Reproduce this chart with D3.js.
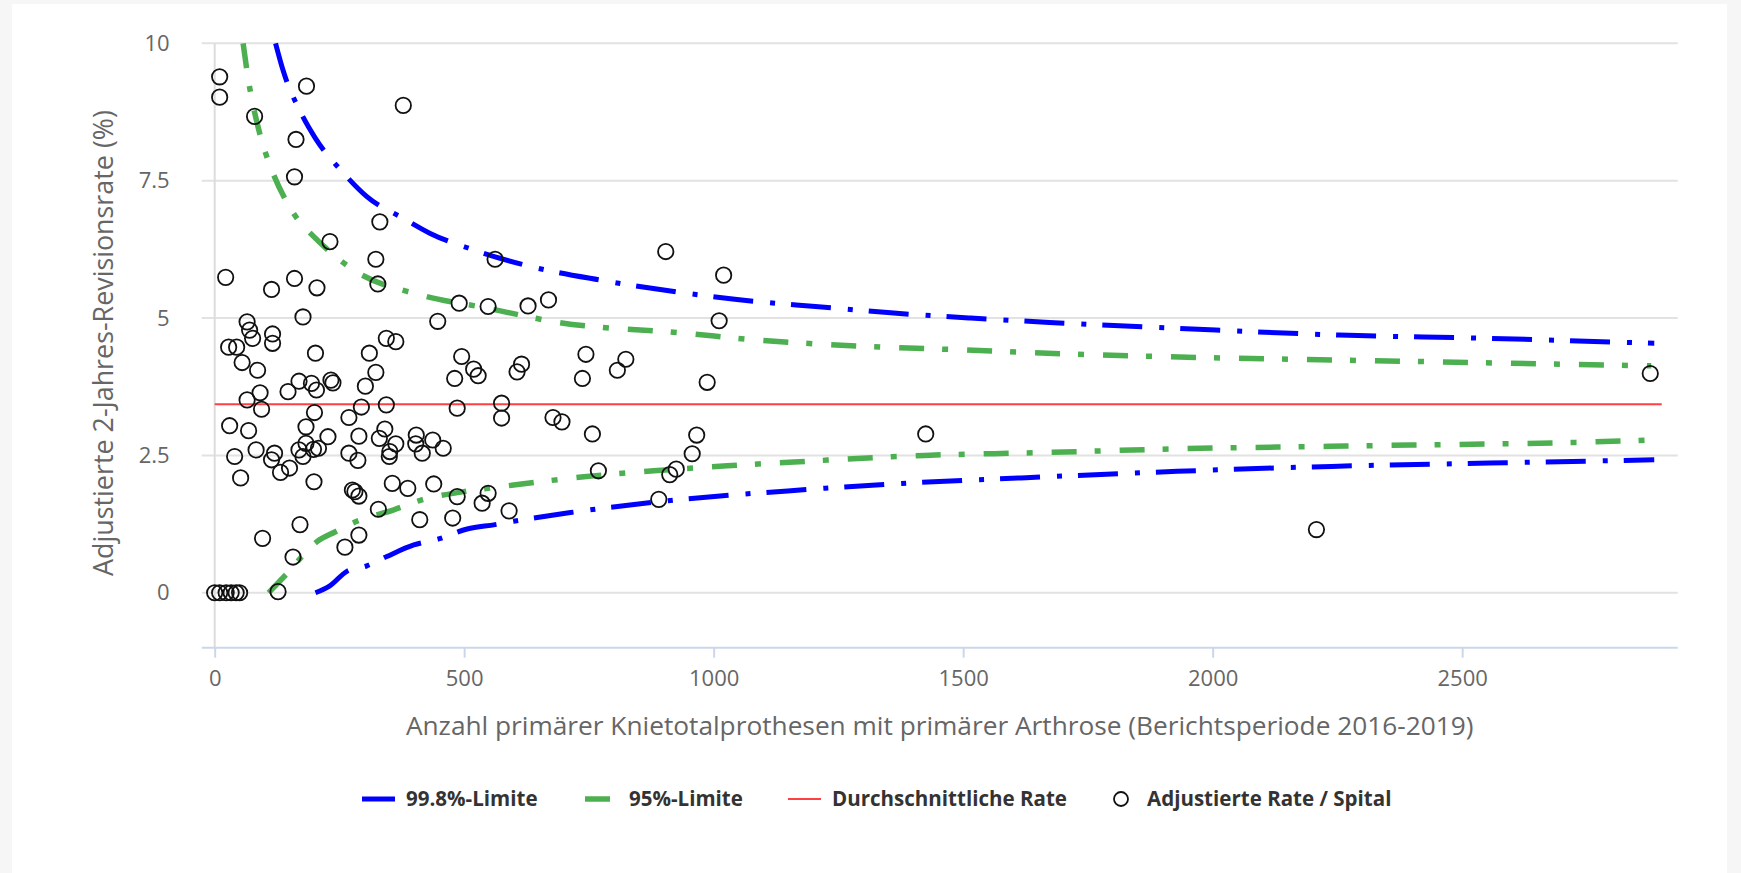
<!DOCTYPE html>
<html><head><meta charset="utf-8">
<script src="https://cdn.jsdelivr.net/npm/d3@7"></script>
<style>
html,body{margin:0;padding:0;background:#f6f6f6;}
svg{display:block;}
text{font-family:"Open Sans",Lato,sans-serif;}
</style></head><body>
<svg id="chart" width="1741" height="873"></svg>
<script>
// ---------- data ----------
const hospitalCases = [10,10,184,378,80,163,160,331,231,323,562,22,160,114,205,327,490,548,904,1020,628,669,1011,
  65,70,76,116,116,28,44,177,202,447,55,86,344,363,310,323,302,495,481,519,528,169,194,204,233,237,147,91,65,94,200,
  294,344,486,269,575,575,30,68,183,227,289,341,330,363,404,403,437,458,416,351,350,269,287,183,169,198,208,177,83,
  120,114,40,150,132,52,199,276,281,289,356,387,439,328,411,477,486,536,548,171,96,289,261,157,127,
  0,10,23,33,43,50,
  615,606,744,737,824,807,987,678,696,757,966,957,925,912,769,890,590,1425,2208,2877];
const hospitalRates = [9.39,9.02,9.22,8.87,8.67,8.25,7.57,6.75,6.39,6.07,6.07,5.74,5.72,5.52,5.55,5.62,5.27,5.21,6.21,5.78,5.22,5.33,4.95,
  4.93,4.78,4.63,4.71,4.54,4.47,4.47,5.02,4.36,4.94,4.19,4.05,4.63,4.57,4.36,4.01,3.76,4.30,3.90,4.07,3.95,3.85,3.81,3.69,3.87,3.82,3.66,3.64,3.51,3.34,3.28,
  3.38,3.42,3.36,3.19,3.45,3.18,3.04,2.95,3.02,2.84,2.85,2.98,2.81,2.71,2.87,2.71,2.78,2.63,2.54,2.57,2.48,2.54,2.41,2.72,2.60,2.61,2.63,2.48,2.60,
  2.54,2.42,2.48,2.27,2.19,2.09,2.02,1.87,1.84,1.76,1.99,1.90,1.98,1.52,1.33,1.36,1.75,1.63,1.81,1.24,0.99,1.05,0.83,0.65,0.02,
  0,0,0,0,0,0,
  4.16,4.02,4.34,3.90,4.25,4.05,3.83,3.19,3.11,2.89,2.87,2.53,2.25,2.15,2.22,1.70,1.49,2.89,1.15,3.99];

const upper998Cases = [122,138,172,202,259,305,379,432,519,623,773,930,1087,1204,1361,1515,1673,1935,2253,2554,2885];
const upper998Rates = [10,9.48,8.75,8.27,7.63,7.21,6.81,6.54,6.24,5.96,5.69,5.47,5.30,5.21,5.09,5.00,4.92,4.81,4.69,4.63,4.54];
const lower998Cases = [202,230,265,305,345,399,449,506,562,599,713,893,1173,1377,1615,1929,2238,2554,2885];
const lower998Rates = [0,0.12,0.39,0.49,0.66,0.87,0.98,1.16,1.24,1.30,1.46,1.66,1.87,1.99,2.09,2.21,2.30,2.36,2.42];
const upper95Cases = [57,65,92,112,142,172,192,279,412,546,682,948,1085,1223,1499,1768,1891,2404,2879];
const upper95Rates = [10,9.48,8.30,7.75,7.15,6.73,6.54,5.87,5.42,5.18,4.93,4.72,4.60,4.52,4.42,4.33,4.30,4.21,4.13];
const lower95Cases = [108,143,205,242,285,359,415,499,599,740,880,1027,1161,1423,1654,1930,2268,2818,2883];
const lower95Rates = [0,0.33,0.93,1.11,1.30,1.51,1.69,1.84,1.96,2.11,2.22,2.31,2.38,2.50,2.55,2.62,2.67,2.76,2.78];
const averageCases = [0,2900];
const averageRates = [3.43,3.43];

const xTicks = [0,500,1000,1500,2000,2500];
const yTicks = [0,2.5,5,7.5,10];
const yTickLabels = ["0","2.5","5","7.5","10"];
const legendLabels = ["99.8%-Limite","95%-Limite","Durchschnittliche Rate","Adjustierte Rate / Spital"];
const xTitle = "Anzahl primärer Knietotalprothesen mit primärer Arthrose (Berichtsperiode 2016-2019)";
const yTitle = "Adjustierte 2-Jahres-Revisionsrate (%)";

// ---------- layout ----------
const svg = d3.select("#chart");
const plot = {left:201.7, right:1677.7, top:43.3, bottom:647.7};
const x = d3.scaleLinear().domain([-26, 2932]).range([plot.left, plot.right]);
const y = d3.scaleLinear().domain([-1, 10]).range([plot.bottom, plot.top]);

svg.append("rect").attr("x",0).attr("y",0).attr("width",1741).attr("height",873).attr("fill","#f6f6f6");
svg.append("rect").attr("x",12).attr("y",4).attr("width",1715).attr("height",869).attr("fill","#ffffff");

const BLUE = "#0000ff", GREEN = "#4caf50", RED = "#ff4040";
const blueDash = "40,17,5,16", greenDash = "25,18,6,19";

// fit a text element's font size so its width matches a target
function fitWidth(sel, target){
  const n = sel.node(); const w = n.getComputedTextLength();
  const fs = parseFloat(sel.style("font-size"));
  sel.style("font-size", (fs*target/w).toFixed(2)+"px");
}

// grid
svg.append("g").selectAll("line").data(yTicks).join("line")
  .attr("x1",plot.left).attr("x2",plot.right)
  .attr("y1",d=>y(d)).attr("y2",d=>y(d))
  .attr("stroke","#e2e2e2").attr("stroke-width",2);
svg.append("line").attr("x1",x(0)).attr("x2",x(0)).attr("y1",plot.top).attr("y2",plot.bottom)
  .attr("stroke","#dcdcdc").attr("stroke-width",2);

// y axis labels
const yAxis = d3.axisLeft(y).tickValues(yTicks).tickFormat((d,i)=>yTickLabels[i]).tickSize(0).tickPadding(32);
const gy = svg.append("g").attr("transform",`translate(${plot.left},0)`).call(yAxis);
gy.select(".domain").remove();
gy.selectAll("text").attr("fill","#666").style("font-size","22px").style("font-family","'Open Sans'");

// x axis
const xAxis = d3.axisBottom(x).tickValues(xTicks).tickFormat(d3.format("d")).tickSize(10).tickPadding(13);
const gx = svg.append("g").attr("transform",`translate(0,${plot.bottom})`).call(xAxis);
gx.select(".domain").attr("d",`M${plot.left},0H${plot.right}`).attr("stroke","#ccd6eb").attr("stroke-width",2);
gx.selectAll(".tick line").attr("stroke","#ccd6eb").attr("stroke-width",2);
gx.selectAll("text").attr("fill","#666").style("font-size","22px").style("font-family","'Open Sans'");

// clip
svg.append("clipPath").attr("id","clip").append("rect")
  .attr("x",plot.left).attr("y",plot.top-1).attr("width",plot.right-plot.left).attr("height",plot.bottom-plot.top+1);
const g = svg.append("g").attr("clip-path","url(#clip)");

const line = d3.line().x(d=>x(d[0])).y(d=>y(d[1])).curve(d3.curveMonotoneX);
const zip = (a,b)=>a.map((v,i)=>[v,b[i]]);

[[upper998Cases,upper998Rates],[lower998Cases,lower998Rates]].forEach(([a,b])=>{
  g.append("path").attr("d",line(zip(a,b))).attr("fill","none").attr("stroke",BLUE)
   .attr("stroke-width",5).attr("stroke-dasharray",blueDash);
});
[[upper95Cases,upper95Rates],[lower95Cases,lower95Rates]].forEach(([a,b])=>{
  g.append("path").attr("d",line(zip(a,b))).attr("fill","none").attr("stroke",GREEN)
   .attr("stroke-width",5.5).attr("stroke-dasharray",greenDash);
});
g.append("path").attr("d",line(zip(averageCases,averageRates))).attr("fill","none")
  .attr("stroke",RED).attr("stroke-width",2);

g.append("g").selectAll("circle").data(zip(hospitalCases,hospitalRates)).join("circle")
  .attr("cx",d=>x(d[0])).attr("cy",d=>y(d[1])).attr("r",7.7)
  .attr("fill","none").attr("stroke","#111").attr("stroke-width",1.8);

// titles
const xt = svg.append("text").attr("x",(plot.left+plot.right)/2).attr("y",735).attr("text-anchor","middle")
  .attr("fill","#666").style("font-size","24px").text(xTitle);
fitWidth(xt, 1068);
const yt = svg.append("text").attr("transform","translate(113,343) rotate(-90)").attr("text-anchor","middle")
  .attr("fill","#666").style("font-size","24px").text(yTitle);
fitWidth(yt, 466);

// legend
const lg = svg.append("g");
const legY = 799;
const symX = [362,585,788,1121];
const txtX = [406,629,832,1147];
const txtW = [138,120,226,241];
lg.append("line").attr("x1",symX[0]).attr("x2",symX[0]+33).attr("y1",legY).attr("y2",legY)
  .attr("stroke",BLUE).attr("stroke-width",5).attr("stroke-dasharray",blueDash);
lg.append("line").attr("x1",symX[1]).attr("x2",symX[1]+33).attr("y1",legY).attr("y2",legY)
  .attr("stroke",GREEN).attr("stroke-width",5.5).attr("stroke-dasharray",greenDash);
lg.append("line").attr("x1",symX[2]).attr("x2",symX[2]+33).attr("y1",legY).attr("y2",legY)
  .attr("stroke",RED).attr("stroke-width",2);
lg.append("circle").attr("cx",symX[3]).attr("cy",legY).attr("r",7).attr("fill","none")
  .attr("stroke","#111").attr("stroke-width",1.8);
const lt = lg.selectAll("text").data(legendLabels).join("text")
  .attr("x",(d,i)=>txtX[i]).attr("y",legY+7).attr("fill","#333")
  .style("font-size","19px").style("font-weight","bold").text(d=>d);
// common legend size from total width
let tot = 0; lt.each(function(){ tot += this.getComputedTextLength(); });
const targetTot = txtW.reduce((s,v)=>s+v,0);
lt.style("font-size", (19*targetTot/tot).toFixed(2)+"px");
</script>
</body></html>
